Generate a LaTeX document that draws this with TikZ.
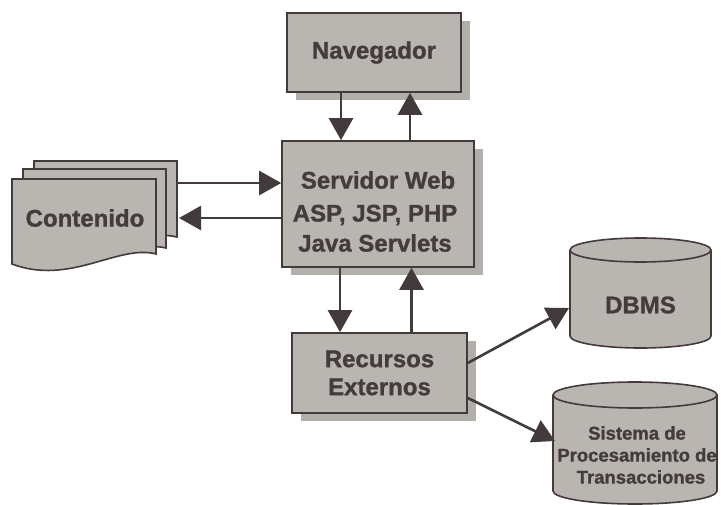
\documentclass[tikz,border=0pt]{standalone}
\usepackage{fontspec}
\setmainfont{Liberation Sans}[BoldFeatures={FakeBold=1.2}]
\usetikzlibrary{arrows.meta,shadows,calc}
\definecolor{boxfill}{HTML}{B9B5B1}
\definecolor{shadowfill}{HTML}{B2AEAA}
\definecolor{inkline}{HTML}{433B3B}
\definecolor{inktext}{HTML}{443C3C}
\tikzset{
  box/.style={draw=inkline, line width=1.6pt, fill=boxfill, text=inktext,
    font=\bfseries\fontsize{24}{28}\selectfont, align=center, inner sep=0pt,
    drop shadow={shadow xshift=9pt, shadow yshift=-8pt, fill=shadowfill, opacity=1}},
  page/.style={draw=inkline, line width=1.6pt, fill=boxfill},
  cyl/.style={draw=inkline, line width=1.6pt, fill=boxfill},
  lbl/.style={text=inktext, font=\bfseries\fontsize{24}{28}\selectfont, inner sep=0pt},
  small/.style={text=inktext, font=\bfseries\fontsize{18.5}{22}\selectfont, inner sep=0pt},
  arr/.style={draw=inkline, line width=2.6pt, -{Triangle[length=22pt,width=24pt]}},
}
\begin{document}
\begin{tikzpicture}[x=1pt,y=-1pt]
\fill[white] (0,0) rectangle (722,505);
\useasboundingbox (0,0) rectangle (722,505);

% boxes
\node[box, minimum width=174pt, minimum height=79pt] (nav) at (374,52.5) {Navegador};
\node[box, minimum width=192pt, minimum height=126pt] (srv) at (378,204) {};
\node[lbl] (srv1) at (378,180) {Servidor Web};
\node[lbl] (srv2) at (375,215) {ASP, JSP, PHP};
\node[lbl] (srv3) at (375,243) {Java Servlets};
\node[box, minimum width=175pt, minimum height=80pt] (rec) at (379.5,373) {Recursos\\Externos};

% contenido pages
\path[page] (34,161) -- (177,161) -- (177,237)
  .. controls (140,228) and (90,262) .. (34,245) -- cycle;
\path[page] (23,169) -- (166,169) -- (166,248)
  .. controls (128,239) and (80,275) .. (23,256) -- cycle;
\path[page] (12,179) -- (156,179) -- (156,254)
  .. controls (118,244) and (70,286) .. (12,264) -- cycle;
\node[lbl] (cont) at (85,218) {Contenido};
\coordinate (docR1) at (177,183);
\coordinate (docR2) at (179,218);

% cylinders
\path[cyl] (570,250) -- (570,336) arc[start angle=180, end angle=360, x radius=70.5, y radius=-12]
  -- (711,250) arc[start angle=0, end angle=180, x radius=70.5, y radius=-12] -- cycle;
\draw[draw=inkline, line width=1.6pt] (570,250) arc[start angle=180, end angle=360, x radius=70.5, y radius=-12];
\node[lbl] (dbms) at (640.5,305) {DBMS};

\path[cyl] (553,395) -- (553,491) arc[start angle=180, end angle=360, x radius=82, y radius=-13]
  -- (717,395) arc[start angle=0, end angle=180, x radius=82, y radius=-13] -- cycle;
\draw[draw=inkline, line width=1.6pt] (553,395) arc[start angle=180, end angle=360, x radius=82, y radius=-13];
\node[small] (sis1) at (637,433) {Sistema de};
\node[small] (sis2) at (637,455) {Procesamiento de};
\node[small] (sis3) at (641,477) {Transacciones};
\coordinate (dbIn) at (569,308);
\coordinate (tpIn) at (555,441);

% connectors
\draw[arr] ([xshift=-33pt]nav.south) -- ([xshift=-33pt]nav.south |- srv.north);
\draw[arr] ([xshift=32pt]srv.north) -- ([xshift=32pt]srv.north |- nav.south);
\draw[arr] ([xshift=-38pt]srv.south) -- ([xshift=-38pt]srv.south |- rec.north);
\draw[arr] ([xshift=32pt]rec.north) -- ([xshift=32pt]rec.north |- srv.south);
\draw[arr] (docR1) -- (docR1 -| srv.west);
\draw[arr] (docR2 -| srv.west) -- (docR2);
\draw[arr] ([yshift=10pt]rec.east) -- (dbIn);
\draw[arr] ([yshift=-25pt]rec.east) -- (tpIn);
\end{tikzpicture}
\end{document}
